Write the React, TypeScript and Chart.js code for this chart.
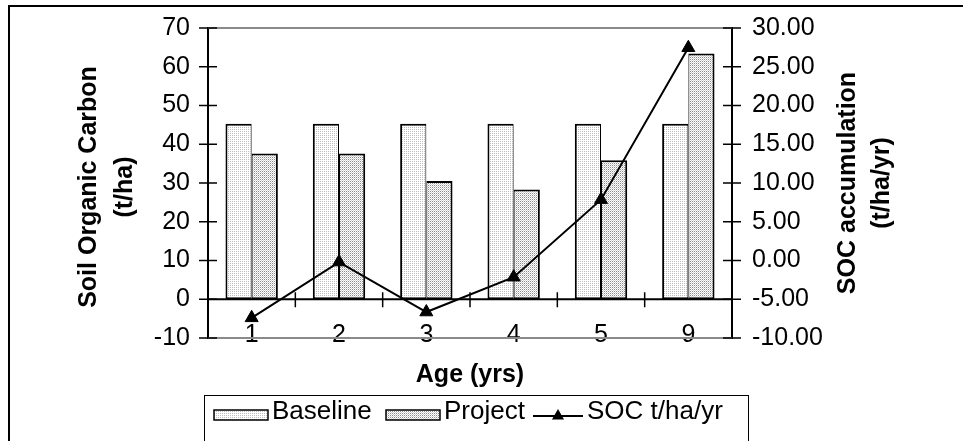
import React, { useEffect, useRef } from "react";
import { Chart, registerables } from "chart.js";

Chart.register(...registerables);

// ---- data ----
const categories = ["1", "2", "3", "4", "5", "9"];
const baselineValues = [45.3, 45.3, 45.3, 45.3, 45.3, 45.3];
const projectValues = [37.6, 37.6, 30.5, 28.3, 35.9, 63.4];
const socValues = [-7.4, -0.2, -6.65, -2.15, 7.85, 27.45];
const seriesLabels = ["Baseline", "Project", "SOC t/ha/yr"];
const leftAxis = { min: -10, max: 70, step: 10 };
const rightAxis = { min: -10, max: 30, step: 5 };
const xTitle = "Age (yrs)";
const leftTitle = ["Soil Organic Carbon", "(t/ha)"];
const rightTitle = ["SOC accumulation", "(t/ha/yr)"];

const FAMILY = "'Liberation Sans', Arial, sans-serif";

function makePattern(ctx: CanvasRenderingContext2D, dot: string, dense: boolean) {
  const tile = document.createElement("canvas");
  tile.width = 2;
  tile.height = 2;
  const t = tile.getContext("2d")!;
  t.fillStyle = "#ffffff";
  t.fillRect(0, 0, 2, 2);
  t.fillStyle = dot;
  t.fillRect(0, 0, 1, 1);
  if (dense) {
    t.fillStyle = "#d4d4d4";
    t.fillRect(1, 1, 1, 1);
  }
  return ctx.createPattern(tile, "repeat")!;
}

const decorPlugin = {
  id: "decor",
  afterDraw(chart: any) {
    const { ctx, chartArea: ca, scales } = chart;
    const xs = scales.x;
    const ys = scales.y;
    const y1 = scales.y1;
    const seg = (x0: number, yA: number, x1: number, yB: number) => {
      ctx.beginPath();
      ctx.moveTo(x0, yA);
      ctx.lineTo(x1, yB);
      ctx.stroke();
    };
    ctx.save();
    // category labels (low position, on the plot-area bottom edge)
    ctx.fillStyle = "#000";
    ctx.font = `25px ${FAMILY}`;
    ctx.textAlign = "center";
    ctx.textBaseline = "middle";
    xs.ticks.forEach((t: any) => {
      ctx.fillText(xs.getLabelForValue(t.value), xs.getPixelForValue(t.value), ca.bottom - 3);
    });
    // plot area gray border (top / bottom)
    ctx.strokeStyle = "#8a8a8a";
    ctx.lineWidth = 2;
    seg(ca.left, ca.top, ca.right, ca.top);
    seg(ca.left, ca.bottom, ca.right, ca.bottom);
    // category axis at zero
    const y0 = ys.getPixelForValue(0);
    ctx.strokeStyle = "#000";
    ctx.lineWidth = 2;
    seg(ca.left, y0, ca.right, y0);
    ctx.lineWidth = 1.5;
    for (let i = 1; i < categories.length; i++) {
      const px = (xs.getPixelForValue(i - 1) + xs.getPixelForValue(i)) / 2;
      seg(px, y0 - 7, px, y0 + 8);
    }
    // value axis tick marks (crossing)
    ys.ticks.forEach((t: any) => {
      const py = ys.getPixelForValue(t.value);
      seg(ca.left - 9, py, ca.left + 9, py);
    });
    y1.ticks.forEach((t: any) => {
      const py = y1.getPixelForValue(t.value);
      seg(ca.right - 9, py, ca.right + 9, py);
    });

    // axis titles (rotated, reading bottom-to-top)
    ctx.fillStyle = "#000";
    ctx.font = `bold 25px ${FAMILY}`;
    ctx.textAlign = "center";
    ctx.textBaseline = "middle";
    const drawRot = (lines: string[], xsPos: number[], cy: number) => {
      lines.forEach((s, i) => {
        ctx.save();
        ctx.translate(xsPos[i], cy);
        ctx.rotate(-Math.PI / 2);
        ctx.fillText(s, 0, 0);
        ctx.restore();
      });
    };
    const midY = (ca.top + ca.bottom) / 2;
    drawRot(leftTitle, [ca.left - 119, ca.left - 83], midY + 4);
    drawRot(rightTitle, [ca.right + 116, ca.right + 150], midY);

    // legend
    const ds = chart.data.datasets;
    const bx = 194, by = 388;
    ctx.lineWidth = 1;
    ctx.strokeStyle = "#000";
    ctx.strokeRect(bx + 0.5, by + 0.5, 544, 80);
    ctx.font = `26px ${FAMILY}`;
    ctx.textAlign = "left";
    ctx.textBaseline = "middle";
    const textY = 405;
    const swY = 403, swH = 10, swW = 54;
    const items = [
      { sx: 204, tx: 262, d: ds[1] },
      { sx: 376, tx: 434, d: ds[2] },
    ];
    items.forEach((it) => {
      ctx.fillStyle = it.d.backgroundColor;
      ctx.fillRect(it.sx, swY, swW, swH);
      ctx.lineWidth = 1.5;
      ctx.strokeStyle = "#000";
      ctx.strokeRect(it.sx, swY, swW, swH);
      ctx.fillStyle = "#000";
      ctx.fillText(it.d.label, it.tx, textY);
    });
    // line sample
    const ly = 409;
    ctx.lineWidth = 2;
    seg(523, ly, 573, ly);
    const r = 7;
    const cx = 548;
    ctx.beginPath();
    ctx.moveTo(cx, ly - r);
    ctx.lineTo(cx + r * 0.866, ly + r * 0.5);
    ctx.lineTo(cx - r * 0.866, ly + r * 0.5);
    ctx.closePath();
    ctx.fillStyle = "#000";
    ctx.fill();
    ctx.fillText(ds[0].label, 577, textY);
    ctx.restore();
  },
};

export default function App() {
  const ref = useRef<HTMLCanvasElement | null>(null);
  useEffect(() => {
    const canvas = ref.current!;
    const ctx = canvas.getContext("2d")!;
    const baselineFill = makePattern(ctx, "#bdbdbd", false);
    const projectFill = makePattern(ctx, "#8c8c8c", true);
    const tickFont = { family: FAMILY, size: 25 };
    const chart = new Chart(canvas, {
      type: "bar",
      data: {
        labels: categories,
        datasets: [
          {
            type: "line",
            label: seriesLabels[2],
            data: socValues,
            yAxisID: "y1",
            order: 0,
            borderColor: "#000",
            borderWidth: 2,
            tension: 0,
            pointStyle: "triangle",
            pointRadius: 7.5,
            pointBackgroundColor: "#000",
            pointBorderColor: "#000",
            pointBorderWidth: 1,
          } as any,
          {
            type: "bar",
            label: seriesLabels[0],
            data: baselineValues,
            yAxisID: "y",
            order: 1,
            backgroundColor: baselineFill as any,
            borderColor: "#000",
            borderWidth: { top: 2, left: 2, right: 1, bottom: 2 },
            borderSkipped: false,
            categoryPercentage: 0.6,
            barPercentage: 1,
          } as any,
          {
            type: "bar",
            label: seriesLabels[1],
            data: projectValues,
            yAxisID: "y",
            order: 1,
            backgroundColor: projectFill as any,
            borderColor: "#000",
            borderWidth: { top: 2, left: 1, right: 2, bottom: 2 },
            borderSkipped: false,
            categoryPercentage: 0.6,
            barPercentage: 1,
          } as any,
        ],
      },
      options: {
        animation: false,
        responsive: false,
        events: [],
        layout: { padding: { top: 21, left: 0, right: 0, bottom: 0 } },
        plugins: { legend: { display: false }, tooltip: { enabled: false } },
        scales: {
          x: {
            grid: { display: false, drawTicks: false },
            border: { display: false },
            ticks: { display: false },
            title: {
              display: true,
              text: xTitle,
              color: "#000",
              font: { family: FAMILY, size: 25, weight: "bold" },
              padding: { top: 0, bottom: 51 },
            },
            afterFit: (s: any) => {
              s.height = 103;
            },
          },
          y: {
            position: "left",
            min: leftAxis.min,
            max: leftAxis.max,
            grid: { display: false, drawTicks: false },
            border: { display: true, color: "#000", width: 2 },
            ticks: { stepSize: leftAxis.step, color: "#000", font: tickFont, padding: 18 },
            afterFit: (s: any) => {
              s.width = 198;
              s.paddingTop = 0;
              s.paddingBottom = 0;
            },
          },
          y1: {
            position: "right",
            min: rightAxis.min,
            max: rightAxis.max,
            grid: { display: false, drawTicks: false },
            border: { display: true, color: "#000", width: 2 },
            ticks: {
              stepSize: rightAxis.step,
              color: "#000",
              font: tickFont,
              padding: 20,
              callback: (v: any) => Number(v).toFixed(2),
            },
            afterFit: (s: any) => {
              s.width = 231;
              s.paddingTop = 0;
              s.paddingBottom = 0;
            },
          },
        },
      } as any,
      plugins: [decorPlugin as any],
    });
    return () => chart.destroy();
  }, []);

  return (
    <div
      style={{
        position: "fixed",
        left: 8,
        top: 5,
        width: 1000,
        height: 500,
        border: "2px solid #000",
        background: "#fff",
        overflow: "hidden",
      }}
    >
      <canvas ref={ref} width={953} height={434} style={{ display: "block" }} />
    </div>
  );
}
